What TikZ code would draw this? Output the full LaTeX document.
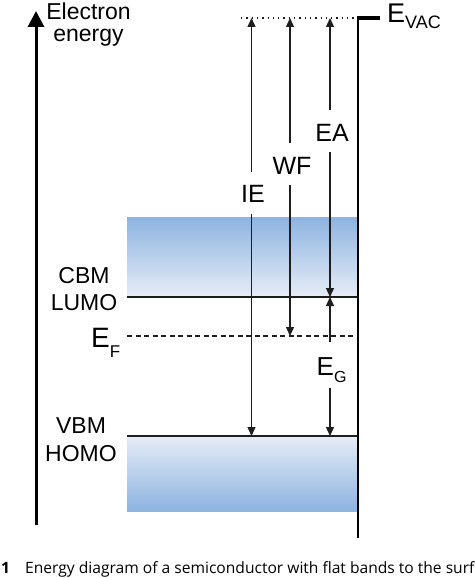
\documentclass[tikz,border=0pt]{standalone}
\usepackage{fontspec}
\setmainfont{Liberation Sans}
\newfontfamily\capfont{Open Sans}
\usetikzlibrary{arrows.meta}
\definecolor{bandDark}{HTML}{8DB3E1}
\definecolor{bandMid}{HTML}{C9DAEF}
\definecolor{bandLight}{HTML}{E6EDF6}
\definecolor{lineCol}{HTML}{1E1E1E}
\tikzset{
  level/.style={draw=lineCol, line width=1.3pt},
  gaparrow/.style={draw=lineCol, line width=1.3pt, -{Triangle[length=9pt,width=8pt]}},
  lbl/.style={inner sep=0pt, font=\fontsize{23}{23}\selectfont},
  albl/.style={inner sep=0pt, font=\fontsize{25}{25}\selectfont},
  captiontext/.style={inner sep=0pt, anchor=base west, font=\capfont\fontsize{15.6}{15.6}\selectfont},
}
\begin{document}
\begin{tikzpicture}[x=1pt,y=-1pt]
\useasboundingbox (0,0) rectangle (474,578);
\clip (0,0) rectangle (474,578);

% bands
\shade[top color=bandDark, middle color=bandMid, bottom color=bandLight] (127,217) rectangle (357,297);
\shade[top color=bandLight, middle color=bandMid, bottom color=bandDark] (127,436) rectangle (357,511);

% level coordinates
\coordinate (cbmL) at (127,297);
\coordinate (cbmR) at (358,297);
\coordinate (efL) at (127,336);
\coordinate (efR) at (357,336);
\coordinate (vbmL) at (127,436);
\coordinate (vbmR) at (358,436);
\coordinate (vacL) at (241,18);
\coordinate (vacR) at (355,18);
\coordinate (barL) at (357,18);
\coordinate (barR) at (380,18);
\coordinate (surfTop) at (358,16);
\coordinate (surfBot) at (358,538);

\draw[level] (cbmL) -- (cbmR);
\draw[level] (vbmL) -- (vbmR);
\draw[draw=lineCol, line width=1.3pt, dash pattern=on 5pt off 3.5pt] (efL) -- (efR);
\draw[draw=lineCol, line width=1.3pt, dash pattern=on 1.3pt off 4pt] (vacL) -- (vacR);
\draw[draw=black, line width=2pt] (surfTop) -- (surfBot);
\draw[draw=black, line width=4.5pt] (barL) -- (barR);

% energy axis
\coordinate (axBot) at (36,525);
\coordinate (axTop) at (36,11);
\draw[draw=black, line width=3pt, -{Triangle[length=16pt,width=16pt]}] (axBot) -- (axTop);
\node[lbl, anchor=base] (electron) at (88.5,20) {Electron};
\node[lbl, anchor=base] (energy) at (88.5,42) {energy};

% left labels
\node[lbl, anchor=base] (cbm) at (84,283) {CBM};
\node[lbl, anchor=base] (lumo) at (84,310) {LUMO};
\node[lbl, anchor=base] (vbm) at (81,433) {VBM};
\node[lbl, anchor=base] (homo) at (81,461) {HOMO};
\node[inner sep=0pt, anchor=base west] (ef) at (91,347) {\fontsize{28}{28}\selectfont E\raisebox{-10pt}{\fontsize{17}{17}\selectfont F}};
\node[inner sep=0pt, anchor=base west] (evac) at (387,23) {\fontsize{27}{27}\selectfont E\raisebox{-6pt}{\fontsize{18}{18}\selectfont VAC}};

% IE
\coordinate (ieTop) at (251.5,18);
\coordinate (ieA) at (251.5,172);
\coordinate (ieB) at (251.5,214);
\coordinate (ieBot) at (251.5,436);
\node[albl] (ie) at (253,194) {IE};
\draw[gaparrow] (ieA) -- (ieTop);
\draw[gaparrow] (ieB) -- (ieBot);

% WF
\coordinate (wfTop) at (290,18);
\coordinate (wfA) at (290,143);
\coordinate (wfB) at (290,185);
\coordinate (wfBot) at (290,336);
\node[albl] (wf) at (292,166) {WF};
\draw[gaparrow] (wfA) -- (wfTop);
\draw[gaparrow] (wfB) -- (wfBot);

% EA
\coordinate (eaTop) at (330,18);
\coordinate (eaA) at (330,110);
\coordinate (eaB) at (330,152);
\coordinate (eaBot) at (330,297);
\node[albl] (ea) at (332,133) {EA};
\draw[gaparrow] (eaA) -- (eaTop);
\draw[gaparrow] (eaB) -- (eaBot);

% EG
\coordinate (egTop) at (330,297);
\coordinate (egA) at (330,342);
\coordinate (egB) at (330,388);
\coordinate (egBot) at (330,436);
\node[inner sep=0pt, anchor=base west] (eg) at (316.5,375) {\fontsize{26}{26}\selectfont E\raisebox{-7pt}{\fontsize{16}{16}\selectfont G}};
\draw[gaparrow] (egA) -- (egTop);
\draw[gaparrow] (egB) -- (egBot);

% caption
\node[captiontext] (capnum) at (1,573) {\bfseries 1};
\node[captiontext] (caption) at (25,573) {Energy diagram of a semiconductor with flat bands to the surf};
\end{tikzpicture}
\end{document}
